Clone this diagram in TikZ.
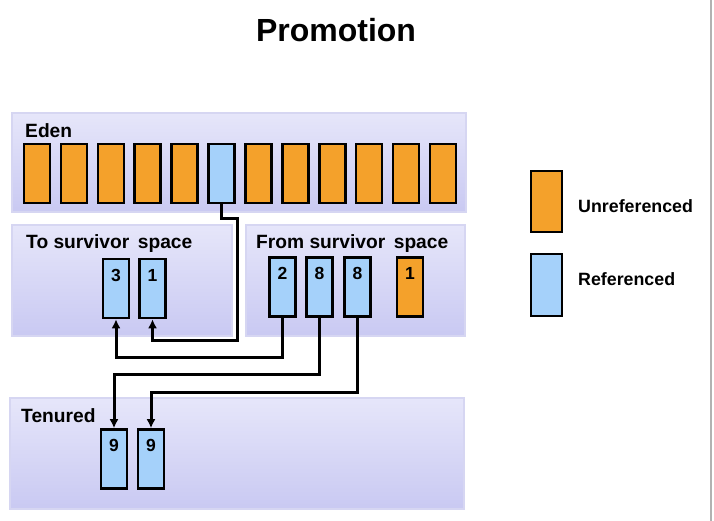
\documentclass[tikz,border=0pt]{standalone}
\usepackage{fontspec}
\setmainfont{Liberation Sans}
\usetikzlibrary{arrows.meta}
\definecolor{orng}{HTML}{F4A12B}
\definecolor{blu}{HTML}{A5D1FA}
\definecolor{pantop}{HTML}{E6E6FA}
\definecolor{panbot}{HTML}{C9C9F2}
\definecolor{panedge}{HTML}{D6D6F2}
\tikzset{
  panel/.style={draw=panedge, line width=1.2pt, top color=pantop, bottom color=panbot, inner sep=0pt},
  cell/.style={draw=black, line width=2.6pt, minimum width=26pt, minimum height=59pt, inner sep=0pt},
  uref/.style={cell, fill=orng},
  ref/.style={cell, fill=blu},
  ptitle/.style={font=\bfseries\fontsize{19.2}{22}\selectfont, anchor=west, inner sep=0pt},
  legtext/.style={font=\bfseries\fontsize{17.8}{20}\selectfont, anchor=west, inner sep=0pt},
  num/.style={font=\bfseries\fontsize{17.5}{20}\selectfont},
  numlab/.style={label={[num,anchor=north,yshift=-8pt]north:#1}},
  wire/.style={draw=black, line width=3pt, -{Latex[length=9pt,width=9pt]}}
}
\begin{document}
\begin{tikzpicture}[x=1pt,y=-1pt]
\useasboundingbox (0,0) rectangle (714,521);
\fill[white] (0,0) rectangle (714,521);
\draw[gray!60, line width=1.5pt] (711,0) -- (711,521);

\node[font=\bfseries\fontsize{32}{36}\selectfont] (title) at (336,30) {Promotion};

% panels
\path[panel] (12,113) rectangle (466,212);
\node[ptitle] (edenT) at (25,131) {Eden};
\path[panel] (12,225) rectangle (232,336);
\node[ptitle] (toT) at (26,244) {To survivor\, space};
\path[panel] (246,225) rectangle (465,336);
\node[ptitle] (fromT) at (256,244) {From survivor\, space};
\path[panel] (10,398) rectangle (464,509);
\node[ptitle] (tenT) at (21,416) {Tenured};

% eden cells
\foreach \i in {0,...,11}{
  \ifnum\i=5
    \node[ref] (e\i) at ({37+36.9*\i},173.5) {};
  \else
    \node[uref] (e\i) at ({37+36.9*\i},173.5) {};
  \fi
}

% to survivor
\node[ref,numlab=3] (t3) at (116,288.5) {};
\node[ref,numlab=1] (t1) at (152.5,288.5) {};

% from survivor
\node[ref,numlab=2] (f2) at (282.5,287) {};
\node[ref,numlab=8] (f8a) at (319.5,287) {};
\node[ref,numlab=8] (f8b) at (357.5,287) {};
\node[uref,numlab=1] (f1) at (410,287) {};

% tenured
\node[ref,numlab=9] (n9a) at (114,459) {};
\node[ref,numlab=9] (n9b) at (151,459) {};

% connectors
\draw[wire] (e5.south) -- ([yshift=-14pt]e5.south) -| (237,340) -| (t1.south);
\draw[wire] (f2.south) -- (f2.south |- 0,357) -| (t3.south);
\draw[wire] (f8a.south) -- (f8a.south |- 0,374) -| (n9a.north);
\draw[wire] (f8b.south) -- (f8b.south |- 0,392) -| (n9b.north);

% legend
\node[uref, minimum width=31pt, minimum height=61pt] (legU) at (546.5,201.5) {};
\node[legtext] (legUT) at (578,206) {Unreferenced};
\node[ref, minimum width=31pt, minimum height=62pt] (legR) at (546.5,285) {};
\node[legtext] (legRT) at (578,279) {Referenced};
\end{tikzpicture}
\end{document}
